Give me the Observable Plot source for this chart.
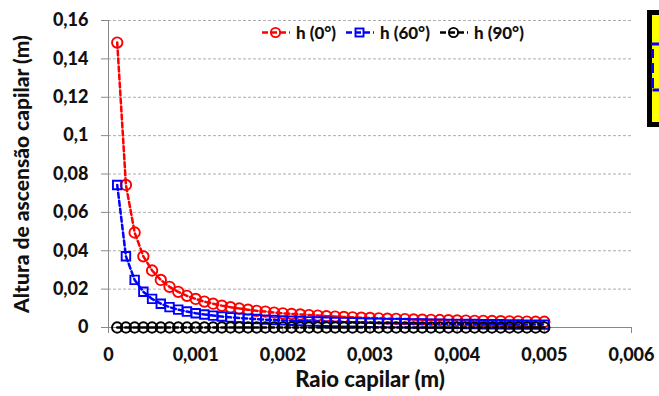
<!DOCTYPE html>
<html>
<head>
<meta charset="utf-8">
<script src="https://cdn.jsdelivr.net/npm/d3@7"></script>
<script src="https://cdn.jsdelivr.net/npm/@observablehq/plot@0.6"></script>
<style>
  html, body { margin: 0; padding: 0; background: #fff; }
  #wrap { position: relative; width: 659px; height: 396px; overflow: hidden; font-family: Lato, "Open Sans", sans-serif; }
  .leg { position: absolute; top: 22px; height: 20px; display: flex; align-items: center; font-weight: 900; font-size: 17px; color: #111; white-space: nowrap; }
  #box { position: absolute; left: 647px; top: 10px; }
</style>
</head>
<body>
<div id="wrap">
  <div id="chart"></div>
  <svg id="box" width="12" height="118">
    <rect x="2.5" y="2.5" width="20" height="112" fill="#ffff00" stroke="#000" stroke-width="5"/>
    <path d="M4,34 H12 M5.5,39 V48 M5.5,53 V63 M5.5,68 V78 M5.5,80 H12" stroke="#0000ff" stroke-width="3" fill="none"/>
  </svg>
</div>
<script>
const radius = [0.0001,0.0002,0.0003,0.0004,0.0005,0.0006,0.0007,0.0008,0.0009,0.0010,
  0.0011,0.0012,0.0013,0.0014,0.0015,0.0016,0.0017,0.0018,0.0019,0.0020,
  0.0021,0.0022,0.0023,0.0024,0.0025,0.0026,0.0027,0.0028,0.0029,0.0030,
  0.0031,0.0032,0.0033,0.0034,0.0035,0.0036,0.0037,0.0038,0.0039,0.0040,
  0.0041,0.0042,0.0043,0.0044,0.0045,0.0046,0.0047,0.0048,0.0049,0.0050];
const h0 = [0.1485,0.0743,0.0495,0.0371,0.0297,0.0248,0.0212,0.0186,0.0165,0.0149,
  0.0135,0.0124,0.0114,0.0106,0.0099,0.0093,0.0087,0.0083,0.0078,0.0074,
  0.0071,0.0068,0.0065,0.0062,0.0059,0.0057,0.0055,0.0053,0.0051,0.0050,
  0.0048,0.0046,0.0045,0.0044,0.0042,0.0041,0.0040,0.0039,0.0038,0.0037,
  0.0036,0.0035,0.0035,0.0034,0.0033,0.0032,0.0032,0.0031,0.0030,0.0030];
const h60 = [0.0743,0.0371,0.0248,0.0186,0.0149,0.0124,0.0106,0.0093,0.0083,0.0074,
  0.0068,0.0062,0.0057,0.0053,0.0050,0.0046,0.0044,0.0041,0.0039,0.0037,
  0.0035,0.0034,0.0032,0.0031,0.0030,0.0029,0.0028,0.0027,0.0026,0.0025,
  0.0024,0.0023,0.0023,0.0022,0.0021,0.0021,0.0020,0.0020,0.0019,0.0019,
  0.0018,0.0018,0.0017,0.0017,0.0017,0.0016,0.0016,0.0015,0.0015,0.0015];
const h90 = [0,0,0,0,0,0,0,0,0,0, 0,0,0,0,0,0,0,0,0,0, 0,0,0,0,0,0,0,0,0,0,
  0,0,0,0,0,0,0,0,0,0, 0,0,0,0,0,0,0,0,0,0];
const seriesNames = ["h (0°)", "h (60°)", "h (90°)"];
const seriesColors = ["#ff0000", "#0000ff", "#000000"];
const seriesSymbols = ["circle", "square", "circle"];
const xTicks = [0, 0.001, 0.002, 0.003, 0.004, 0.005, 0.006];
const xTickLabels = ["0", "0,001", "0,002", "0,003", "0,004", "0,005", "0,006"];
const yTicks = [0, 0.02, 0.04, 0.06, 0.08, 0.1, 0.12, 0.14, 0.16];
const yTickLabels = ["0", "0,02", "0,04", "0,06", "0,08", "0,1", "0,12", "0,14", "0,16"];

const values = [h0, h60, h90];
const data = [];
values.forEach((arr, s) => arr.forEach((v, i) => data.push({r: radius[i], h: v, s})));

const marks = [
  Plot.gridY(yTicks, {stroke: "#999", strokeOpacity: 1, strokeDasharray: "3,2", strokeWidth: 0.8}),
  Plot.ruleX([0], {stroke: "#888", strokeWidth: 1}),
  Plot.ruleY([0], {stroke: "#888", strokeWidth: 1}),
  Plot.axisY(yTicks, {tickFormat: (d) => yTickLabels[yTicks.indexOf(d)], tickSize: 7, tickPadding: 13, stroke: "#888",
    fontSize: 18, fontWeight: 900, fill: "#111", label: null}),
  Plot.axisX(xTicks, {tickFormat: (d) => xTickLabels[xTicks.indexOf(d)], tickSize: 6, tickPadding: 15, stroke: "#888",
    fontSize: 18, fontWeight: 900, fill: "#111", label: null})
];
[0, 1, 2].forEach(s => {
  const d = data.filter(p => p.s === s);
  marks.push(Plot.line(d, {x: "r", y: "h", stroke: seriesColors[s], strokeWidth: 2.5, strokeDasharray: "5,3"}));
  marks.push(Plot.dot(d, {x: "r", y: "h", stroke: seriesColors[s], symbol: seriesSymbols[s], r: seriesSymbols[s] === "square" ? 4.8 : 5.2, strokeWidth: 1.9, fill: "none"}));
});
marks.push(Plot.text(["Raio capilar (m)"], {frameAnchor: "bottom", dy: 59, fontSize: 22, fontWeight: 900, fill: "#111"}));
marks.push(Plot.text(["Altura de ascensão capilar (m)"], {frameAnchor: "left", dx: -86, rotate: -90, textAnchor: "middle", fontSize: 21, fontWeight: 900, fill: "#111"}));

const chart = Plot.plot({
  width: 659, height: 396,
  marginLeft: 108, marginRight: 28, marginTop: 20, marginBottom: 69,
  style: {fontFamily: "Lato, 'Open Sans', sans-serif", background: "#fff"},
  x: {domain: [0, 0.006]},
  y: {domain: [0, 0.16]},
  marks
});
document.getElementById("chart").appendChild(chart);

const wrap = document.getElementById("wrap");
const legX = [262, 346, 440];
seriesNames.forEach((name, s) => {
  const item = document.createElement("div");
  item.className = "leg";
  item.style.left = legX[s] + "px";
  const sym = seriesSymbols[s] === "square"
    ? `<rect x="9.5" y="5.5" width="8" height="8" fill="none" stroke="${seriesColors[s]}" stroke-width="1.9"/>`
    : `<circle cx="13.5" cy="9.5" r="4.6" fill="none" stroke="${seriesColors[s]}" stroke-width="1.9"/>`;
  item.innerHTML = `<svg width="28" height="19" style="margin-right:6px"><line x1="0" y1="9.5" x2="28" y2="9.5" stroke="${seriesColors[s]}" stroke-width="2.5" stroke-dasharray="6,3"/>${sym}</svg><span>${name}</span>`;
  wrap.appendChild(item);
});
</script>
</body>
</html>
